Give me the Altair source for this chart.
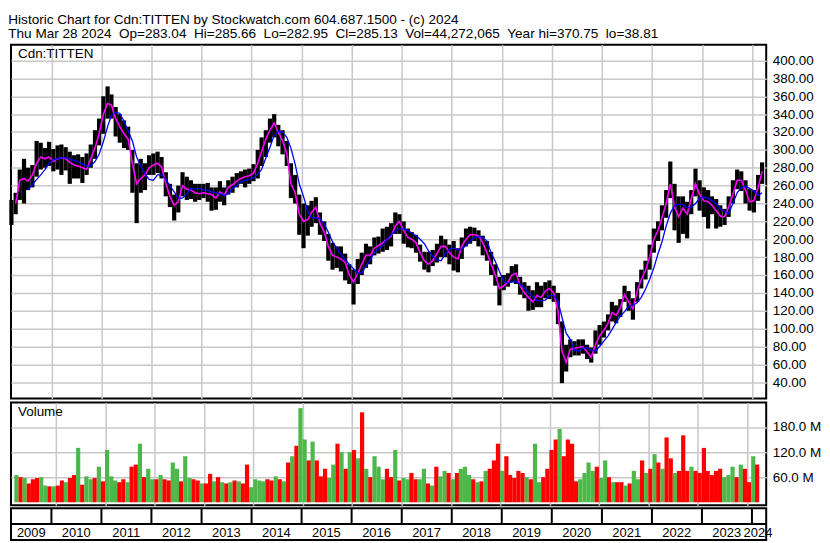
import altair as alt
import pandas as pd

FONT = "Liberation Sans"

# ---------------- monthly price data (Mar 2009 .. Mar 2024) ----------------
lo_vals = (
    [216, 228, 244, 240, 255, 258, 270, 278, 280, 282] +                      # 2009 Mar-Dec
    [276, 278, 272, 277, 262, 268, 268, 263, 272, 280, 290, 305] +            # 2010
    [318, 335, 335, 315, 308, 302, 300, 252, 218, 252, 255, 272] +            # 2011
    [272, 274, 268, 248, 236, 221, 230, 248, 244, 245, 242, 244] +            # 2012
    [246, 242, 232, 233, 242, 238, 250, 252, 258, 262, 258, 262] +            # 2013
    [265, 268, 282, 292, 308, 314, 304, 295, 282, 246, 240, 205] +            # 2014
    [190, 204, 214, 218, 205, 198, 176, 166, 168, 164, 154, 150] +            # 2015
    [127, 150, 160, 168, 172, 182, 184, 186, 188, 192, 206, 206] +            # 2016
    [195, 191, 190, 185, 175, 166, 163, 170, 174, 180, 180, 172] +            # 2017
    [165, 163, 178, 192, 195, 198, 192, 182, 176, 160, 148, 126] +            # 2018
    [143, 147, 152, 150, 138, 134, 120, 121, 124, 124, 134, 133] +            # 2019
    [130, 105, 39, 52, 68, 70, 70, 72, 66, 62, 72, 82] +                      # 2020
    [90, 98, 108, 106, 113, 130, 120, 110, 130, 145, 155, 166] +              # 2021
    [185, 198, 210, 224, 246, 210, 196, 206, 201, 228, 248, 232] +            # 2022
    [225, 212, 228, 212, 214, 216, 225, 240, 256, 254, 240, 232] +            # 2023
    [230, 243, 262]                                                            # 2024 Jan-Mar
)
hi_vals = (
    [244, 252, 278, 290, 280, 283, 310, 308, 302, 309] +
    [301, 305, 306, 303, 298, 294, 295, 292, 296, 306, 322, 335] +
    [360, 371, 362, 348, 340, 333, 326, 300, 285, 290, 285, 294] +
    [296, 298, 292, 275, 262, 250, 260, 275, 270, 266, 262, 262] +
    [262, 263, 258, 258, 265, 258, 266, 270, 274, 276, 278, 279] +
    [284, 300, 314, 322, 335, 340, 328, 322, 310, 285, 272, 250] +
    [240, 238, 243, 247, 230, 220, 206, 196, 192, 192, 184, 172] +
    [166, 178, 185, 195, 192, 202, 203, 212, 214, 218, 230, 228] +
    [220, 212, 208, 205, 194, 186, 186, 188, 195, 204, 200, 194] +
    [198, 190, 202, 212, 214, 213, 210, 204, 198, 186, 172, 158] +
    [160, 162, 170, 172, 158, 152, 148, 143, 152, 148, 152, 154] +
    [148, 140, 108, 82, 88, 86, 88, 88, 82, 79, 98, 104] +
    [108, 116, 130, 126, 133, 148, 142, 134, 152, 166, 176, 194] +
    [212, 220, 238, 255, 287, 262, 248, 248, 242, 255, 279, 266] +
    [258, 255, 248, 245, 238, 234, 248, 266, 278, 276, 266, 256] +
    [255, 272, 286]
)
ma_short = (
    [None, 240, 266, 268, 265, 272, 285, 292, 290, 292] +
    [287, 290, 291, 290, 286, 283, 282, 280, 278, 290, 302, 318] +
    [340, 352, 350, 335, 326, 318, 312, 285, 262, 268, 272, 280] +
    [283, 285, 281, 262, 248, 238, 242, 260, 256, 255, 252, 251] +
    [252, 251, 250, 246, 253, 249, 258, 261, 265, 268, 270, 271] +
    [274, 285, 298, 312, 322, 330, 320, 310, 296, 262, 252, 228] +
    [220, 222, 230, 236, 218, 208, 192, 182, 180, 178, 174, 160] +
    [152, 162, 172, 182, 182, 190, 193, 196, 200, 203, 215, 220] +
    [210, 202, 200, 196, 185, 176, 172, 176, 184, 192, 192, 185] +
    [180, 178, 192, 200, 205, 205, 204, 196, 185, 172, 160, 145] +
    [148, 152, 160, 162, 148, 140, 135, 130, 137, 135, 142, 145] +
    [140, 120, 75, 62, 77, 78, 79, 80, 74, 68, 82, 92] +
    [98, 106, 118, 115, 123, 138, 130, 122, 142, 155, 165, 180] +
    [200, 210, 224, 240, 262, 236, 225, 235, 228, 245, 262, 250] +
    [243, 242, 238, 232, 226, 225, 236, 250, 266, 266, 255, 242] +
    [243, 258, 276]
)
ma_long = (
    [None, None, None, None, 256, 261, 267, 272, 278, 285] +
    [289, 290, 291, 291, 290, 288, 287, 284, 282, 282, 287, 295] +
    [309, 326, 339, 342, 341, 332, 321, 310, 292, 282, 273, 267] +
    [266, 272, 272, 267, 260, 253, 246, 246, 251, 257, 256, 257] +
    [255, 255, 253, 252, 251, 249, 251, 257, 260, 264, 266, 267] +
    [269, 273, 278, 291, 303, 316, 321, 320, 314, 302, 284, 262] +
    [248, 231, 224, 224, 223, 217, 208, 197, 190, 183, 177, 172] +
    [167, 162, 162, 170, 177, 185, 189, 193, 200, 205, 209, 212] +
    [212, 210, 207, 204, 200, 195, 187, 181, 177, 176, 184, 189] +
    [190, 188, 189, 193, 198, 202, 203, 202, 198, 185, 175, 164] +
    [153, 151, 152, 153, 149, 146, 140, 136, 132, 131, 132, 137] +
    [137, 131, 113, 95, 88, 76, 75, 78, 79, 76, 75, 80] +
    [86, 92, 99, 107, 114, 119, 125, 126, 129, 135, 144, 155] +
    [168, 184, 197, 215, 229, 238, 239, 239, 235, 236, 240, 246] +
    [247, 246, 243, 240, 234, 231, 229, 240, 252, 258, 259, 257] +
    [254, 249, 252]
)

# ---------------- monthly volume (millions) and up/down colour ----------------
vol_vals = (
    [65, 60, 58, 45, 55, 58, 60, 40, 38, 38] +
    [40, 52, 48, 58, 65, 130, 42, 62, 55, 58, 85, 50] +
    [125, 62, 52, 48, 55, 48, 85, 90, 140, 60, 80, 55] +
    [55, 65, 55, 52, 95, 80, 50, 110, 58, 55, 52, 45] +
    [45, 68, 50, 60, 48, 45, 48, 52, 50, 45, 90, 36] +
    [55, 52, 50, 55, 52, 62, 55, 50, 95, 110, 135, 225] +
    [150, 100, 145, 100, 62, 80, 58, 90, 140, 120, 80, 120] +
    [125, 105, 215, 80, 60, 110, 85, 55, 80, 60, 125, 52] +
    [58, 55, 70, 55, 55, 80, 45, 40, 85, 62, 75, 70] +
    [55, 70, 80, 85, 65, 55, 48, 50, 75, 80, 100, 140] +
    [75, 110, 65, 58, 75, 70, 60, 55, 140, 48, 60, 80] +
    [125, 150, 175, 110, 150, 140, 50, 55, 70, 95, 75, 85] +
    [58, 100, 60, 48, 48, 48, 40, 45, 75, 55, 100, 70] +
    [80, 115, 95, 80, 155, 105, 70, 75, 160, 75, 85, 75] +
    [70, 130, 75, 65, 75, 80, 60, 65, 85, 60, 90, 80] +
    [48, 110, 90]
)
vol_dir = (
    "grgrrrggrg" +
    "rrgrrgrggrgr" +
    "gggrrgrrgrgg" +
    "rgrrggrggrrg" +
    "rrgrgrgrgrrg" +
    "gggrrgrgrgrg" +
    "grgrrrggrgrg" +
    "rgrgrgggrrgr" +
    "ggrrggrgrggr" +
    "grgggrgrgrrr" +
    "grrrrrgrggrr" +
    "rrgrrrrggggr" +
    "ggrgrrgrggrg" +
    "rgrgrrgrrrgr" +
    "rrrrrrgggrgr" +
    "rgr"
)

year_marks = list(range(2010, 2025))
year_labels = [str(y) for y in range(2009, 2025)]
label_dates = ["2009-08-07"] + [f"{y}-07-01" for y in range(2010, 2024)] + ["2024-02-14"]

header_1 = "Historic Chart for Cdn:TITTEN by Stockwatch.com 604.687.1500 - (c) 2024"
header_2 = "\u00a0\u00a0".join([
    "Thu Mar 28 2024", "Op=283.04", "Hi=285.66", "Lo=282.95", "Cl=285.13",
    "Vol=44,272,065", "Year hi=370.75", "lo=38.81",
])

# ---------------- build tables ----------------
dates = []
yy, mm = 2009, 3
for _ in range(len(lo_vals)):
    dates.append(f"{yy}-{mm:02d}-15")
    mm += 1
    if mm > 12:
        mm, yy = 1, yy + 1

price_df = pd.DataFrame({"date": dates, "lo": lo_vals, "hi": hi_vals,
                         "ma1": ma_short, "ma2": ma_long})
vol_df = pd.DataFrame({"date": dates, "vol": vol_vals[:len(dates)],
                       "dir": list(vol_dir[:len(dates)])})
years_df = pd.DataFrame({"date": [f"{y}-01-01" for y in year_marks]})
labels_df = pd.DataFrame({"date": label_dates, "label": year_labels})

W = 758
H_PRICE = 355
H_VOL = 103
H_DATE = 32
GRID = "#c8c8c8"

x_domain = [alt.DateTime(year=2009, month=3, date=12, utc=True),
            alt.DateTime(year=2024, month=4, date=14, utc=True)]
x_scale = alt.Scale(domain=x_domain)
x_axis = alt.Axis(values=[alt.DateTime(year=y, month=1, date=1, utc=True) for y in year_marks],
                  grid=True, gridColor=GRID, gridWidth=1.5, labels=False, ticks=False,
                  domain=False, title=None)


def xenc():
    return alt.X("date:T", scale=x_scale, axis=x_axis)


p_scale = alt.Scale(domain=[21.8, 417.5], nice=False, zero=False)
p_axis = alt.Axis(orient="right", values=list(range(40, 401, 20)), format=".2f",
                  grid=True, gridColor=GRID, gridWidth=1.5, ticks=False, domain=False,
                  title=None, labelFontSize=13.5, labelFont=FONT, labelColor="#000000",
                  labelPadding=6)

bars = alt.Chart(price_df).mark_rule(color="black", strokeWidth=4.2).encode(
    x=xenc(),
    y=alt.Y("lo:Q", scale=p_scale, axis=p_axis),
    y2="hi:Q",
)
ma1_line = alt.Chart(price_df).mark_line(color="#ff00ff", strokeWidth=1.6).encode(
    x=xenc(), y=alt.Y("ma1:Q", scale=p_scale, axis=p_axis)
)
ma2_line = alt.Chart(price_df).mark_line(color="#0000ff", strokeWidth=1.3).encode(
    x=xenc(), y=alt.Y("ma2:Q", scale=p_scale, axis=p_axis)
)
p_label = alt.Chart(pd.DataFrame({"t": ["Cdn:TITTEN"]})).mark_text(
    align="left", baseline="middle", fontSize=13.5, font=FONT, color="black"
).encode(x=alt.value(7), y=alt.value(9), text="t:N")

price = alt.layer(bars, ma1_line, ma2_line, p_label).properties(width=W, height=H_PRICE)

v_scale = alt.Scale(domain=[-6.9, 238.4], nice=False, zero=False)
v_axis = alt.Axis(orient="right", values=[60, 120, 180],
                  labelExpr="format(datum.value, '.1f') + ' M'",
                  grid=True, gridColor=GRID, gridWidth=1.5, ticks=False, domain=False,
                  title=None, labelFontSize=13.5, labelFont=FONT, labelColor="#000000",
                  labelPadding=6)
vbars = alt.Chart(vol_df).mark_bar(width=4.2).encode(
    x=xenc(),
    y=alt.Y("vol:Q", scale=v_scale, axis=v_axis),
    y2=alt.value(H_VOL),
    color=alt.Color("dir:N", scale=alt.Scale(domain=["g", "r"], range=["#4cb84a", "#ff0000"]),
                    legend=None),
)
v_label = alt.Chart(pd.DataFrame({"t": ["Volume"]})).mark_text(
    align="left", baseline="middle", fontSize=13.5, font=FONT, color="black"
).encode(x=alt.value(7), y=alt.value(10), text="t:N")
volume = alt.layer(vbars, v_label).properties(width=W, height=H_VOL)

d_ticks = alt.Chart(years_df).mark_rule(color="black", strokeWidth=2).encode(
    x=alt.X("date:T", scale=x_scale, axis=None), y=alt.value(0), y2=alt.value(15)
)
d_line = alt.Chart(pd.DataFrame({"a": [0]})).mark_rule(color="black", strokeWidth=2).encode(
    x=alt.value(0), x2=alt.value(W), y=alt.value(16)
)
d_text = alt.Chart(labels_df).mark_text(
    baseline="middle", fontSize=13, font=FONT, color="black"
).encode(x=alt.X("date:T", scale=x_scale, axis=None), y=alt.value(25), text="label:N")
date_row = alt.layer(d_ticks, d_line, d_text).properties(width=W, height=H_DATE)

chart = alt.vconcat(
    price,
    alt.vconcat(volume, date_row, spacing=0),
    spacing=2,
).properties(
    title=alt.TitleParams(text=[header_1, header_2], anchor="start", fontSize=13.6,
                          font=FONT, fontWeight="normal", color="black",
                          lineHeight=14.5, offset=3),
    padding={"left": 0, "top": 3, "right": 0, "bottom": 0},
).configure_view(stroke="black", strokeWidth=2).configure_concat(spacing=0)

chart.save("out.html", embed_options={"renderer": "svg", "actions": False})
